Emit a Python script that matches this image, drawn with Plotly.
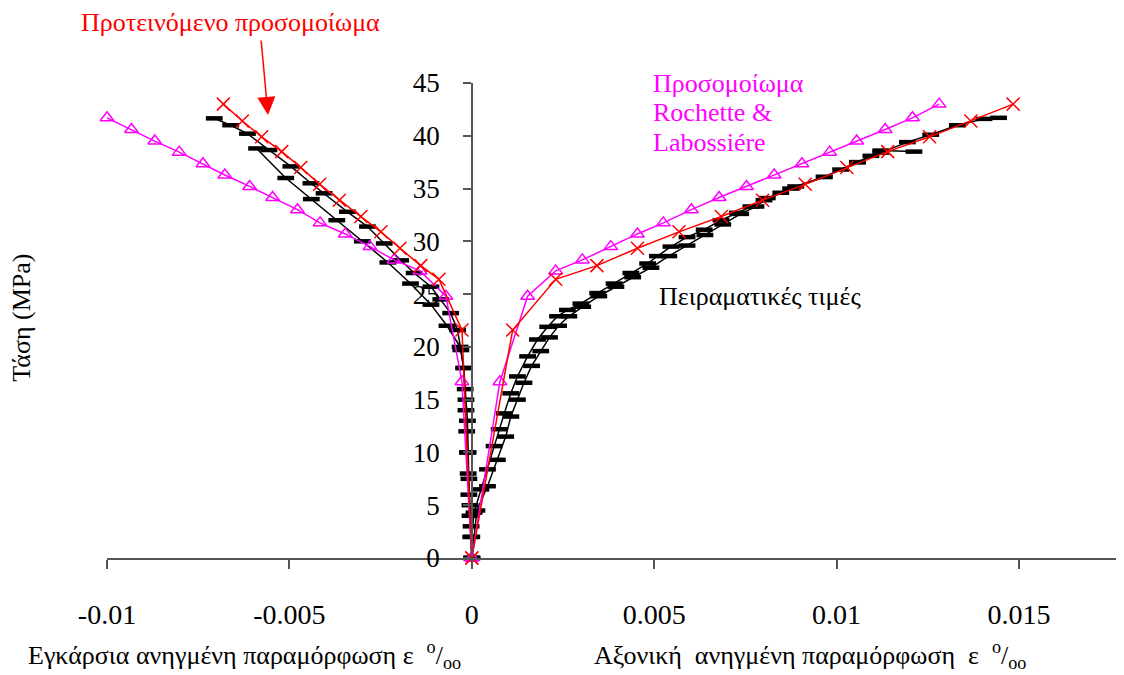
import plotly.graph_objects as go

# ---------------- data ----------------
# Proposed model (red, x markers)
red_left_x = [0, -0.00027, -0.00090, -0.00140, -0.00197, -0.00249, -0.00304, -0.00363, -0.00417,
              -0.00469, -0.00521, -0.00576, -0.00629, -0.00681]
red_right_x = [0, 0.00112, 0.00230, 0.00343, 0.00454, 0.00568, 0.00684, 0.00797, 0.00914,
               0.01028, 0.01140, 0.01255, 0.01368, 0.01484]
red_y = [0, 21.6, 26.4, 27.7, 29.35, 30.9, 32.35, 33.9, 35.4, 37.0, 38.5, 39.9, 41.4, 43.0]

# Rochette & Labossiere model (magenta, triangles)
mag_left_x = [0, -0.00027, -0.00071, -0.00142, -0.00213, -0.00279, -0.00347, -0.00416, -0.00478,
              -0.00546, -0.00609, -0.00677, -0.00737, -0.00802, -0.00869, -0.00933, -0.01000]
mag_left_y = [0, 16.7, 24.8, 27.2, 28.24, 29.5, 30.7, 31.75, 33.0, 34.15, 35.2, 36.28, 37.35,
              38.45, 39.5, 40.6, 41.7]
mag_right_x = [0, 0.00077, 0.00153, 0.00230, 0.00303, 0.00381, 0.00454, 0.00525, 0.00602,
               0.00678, 0.00753, 0.00829, 0.00905, 0.00981, 0.01055, 0.01133, 0.01208, 0.01281]
mag_right_y = [0, 16.7, 24.8, 27.2, 28.24, 29.5, 30.7, 31.75, 33.0, 34.15, 35.2, 36.28, 37.35,
               38.45, 39.5, 40.6, 41.7, 43.0]

# Experimental values (black) - transverse strain, two branches
exp_tr1_x = [0, -0.00003, -0.00005, -0.00008, -0.00010, -0.00012, -0.00014, -0.00016, -0.00018,
             -0.00022, -0.00030, -0.00039, -0.00058, -0.00085, -0.00112, -0.00158, -0.00195,
             -0.00240, -0.00286, -0.00341, -0.00405, -0.00441, -0.00496, -0.00556, -0.00615,
             -0.00661, -0.00706]
exp_tr1_y = [0, 2, 4, 6, 8, 10, 12, 14, 16, 18, 19.7, 21.6, 23.2, 24.5, 25.7, 27.0, 28.2, 29.8,
             31.4, 32.8, 34.55, 35.5, 37.1, 38.65, 40.2, 41.0, 41.65]
exp_tr2_x = [0, -0.00002, -0.00005, -0.00008, -0.00010, -0.00012, -0.00016, -0.00022, -0.00032,
             -0.00068, -0.00112, -0.00168, -0.00230, -0.00300, -0.00370, -0.00440, -0.00510,
             -0.00590]
exp_tr2_y = [0, 3, 5, 7.5, 10, 13, 15, 18, 20, 22, 24, 26, 28, 30, 32, 34, 36, 38.8]

# Experimental values (black) - axial strain, two branches
exp_ax1_x = [0, 0.00000, 0.00006, 0.00025, 0.00043, 0.00061, 0.00075, 0.00089, 0.00107, 0.00125,
             0.00153, 0.00180, 0.00208, 0.00235, 0.00262, 0.00299, 0.00345, 0.00390, 0.00436,
             0.00482, 0.00509, 0.00546, 0.00590, 0.00637, 0.00683, 0.00728, 0.00765, 0.00801,
             0.00847, 0.00888, 0.00966, 0.01011, 0.01057, 0.01094, 0.01121, 0.01212]
exp_ax1_y = [0, 2, 4.3, 6.5, 8.4, 10.6, 12.2, 13.7, 15.6, 17.2, 19.1, 20.7, 21.9, 22.9, 23.5,
             24.1, 25.1, 26.0, 27.0, 27.9, 28.6, 29.5, 30.4, 31.1, 32.0, 32.7, 33.3, 33.9, 34.6,
             35.2, 36.1, 36.8, 37.5, 38.1, 38.6, 38.5]
exp_ax2_x = [0, 0.00014, 0.00043, 0.00070, 0.00093, 0.00107, 0.00125, 0.00143, 0.00164, 0.00189,
             0.00213, 0.00238, 0.00266, 0.00304, 0.00348, 0.00395, 0.00441, 0.00491, 0.00540,
             0.00590, 0.00639, 0.00688, 0.00737, 0.00779, 0.00810, 0.00874, 0.00966, 0.01057,
             0.01121, 0.01194, 0.01258, 0.01331, 0.01404, 0.01444]
exp_ax2_y = [0, 4.5, 6.8, 9.3, 11.5, 13.4, 15.0, 16.6, 18.2, 19.6, 20.9, 22.0, 22.9, 23.8, 24.8,
             25.7, 26.6, 27.5, 28.6, 29.6, 30.6, 31.6, 32.6, 33.3, 34.1, 35.0, 36.1, 37.5, 38.4,
             39.4, 40.1, 41.0, 41.6, 41.7]

x_tickvals = [-0.01, -0.005, 0, 0.005, 0.01, 0.015]
x_ticktext = ["-0.01", "-0.005", "0", "0.005", "0.01", "0.015"]
y_tickvals = [0, 5, 10, 15, 20, 25, 30, 35, 40, 45]

# ---------------- figure ----------------
FONT = "Liberation Serif, Times New Roman, serif"
OFF = 8  # page body margin
W, H = 1124 - OFF, 675 - OFF
fig = go.Figure()

exp_style = dict(mode="lines+markers", line=dict(color="black", width=1.5),
                 marker=dict(symbol="line-ew", size=12, line=dict(color="black", width=4.5)),
                 cliponaxis=False, showlegend=False)
for xs, ys in [(exp_tr1_x, exp_tr1_y), (exp_tr2_x, exp_tr2_y),
               (exp_ax1_x, exp_ax1_y), (exp_ax2_x, exp_ax2_y)]:
    fig.add_trace(go.Scatter(x=xs, y=ys, **exp_style))

mag_style = dict(mode="lines+markers", line=dict(color="#FF00FF", width=1.5),
                 marker=dict(symbol="triangle-up-open", size=12, color="#FF00FF",
                             line=dict(color="#FF00FF", width=1.5)),
                 cliponaxis=False, showlegend=False)
fig.add_trace(go.Scatter(x=mag_left_x, y=mag_left_y, **mag_style))
fig.add_trace(go.Scatter(x=mag_right_x, y=mag_right_y, **mag_style))

red_style = dict(mode="lines+markers", line=dict(color="#FF0000", width=1.5),
                 marker=dict(symbol="x-thin-open", size=13, color="#FF0000",
                             line=dict(color="#FF0000", width=1.5)),
                 cliponaxis=False, showlegend=False)
fig.add_trace(go.Scatter(x=red_left_x, y=red_y, **red_style))
fig.add_trace(go.Scatter(x=red_right_x, y=red_y, **red_style))

# reference pixel frame: x=-0.01 at 107, y=0 at 558.5, y=45 at 83.3
L = 107 - OFF
T = 83 - OFF
B = H - (558.5 - OFF)
R_ = 3
plot_w = W - L - R_
xr = [-0.01, -0.01 + plot_w / 36480]
ypos = (0 - xr[0]) / (xr[1] - xr[0])

fig.update_layout(
    width=W, height=H,
    margin=dict(l=L, r=R_, t=T, b=B),
    paper_bgcolor="white", plot_bgcolor="white",
    font=dict(family=FONT, size=26, color="black"),
    xaxis=dict(range=xr, showgrid=False, zeroline=False, showline=True,
               linecolor="#555555", linewidth=1.5, ticks="outside", ticklen=9,
               tickcolor="#555555", tickwidth=1.5, automargin=False,
               tickvals=x_tickvals, ticktext=x_ticktext, ticklabelstandoff=22,
               tickfont=dict(family=FONT, size=28)),
    yaxis=dict(range=[0, 45], showgrid=False, zeroline=False, showline=True,
               linecolor="#555555", linewidth=1.5, ticks="outside", ticklen=8,
               tickcolor="#555555", tickwidth=1.5, anchor="free", position=ypos,
               tickvals=y_tickvals, ticklabelstandoff=18, automargin=False,
               tickfont=dict(family=FONT, size=27)),
)

def px2paper(px, py):
    px, py = px - OFF, py - OFF
    return (px - L) / plot_w, (H - B - py) / (H - T - B)

def add_text(text, px, py, color, size, xanchor="center", align="center", angle=0):
    xp, yp = px2paper(px, py)
    fig.add_annotation(text=text, x=xp, y=yp, xref="paper", yref="paper",
                       showarrow=False, xanchor=xanchor, yanchor="middle", align=align,
                       textangle=angle, font=dict(family=FONT, size=size, color=color))

add_text("Προτεινόμενο προσομοίωμα", 230, 22, "#FF0000", 26)
add_text("Προσομοίωμα", 651, 83, "#FF00FF", 26, xanchor="left", align="left")
add_text("Rochette &amp;", 651, 113, "#FF00FF", 26, xanchor="left", align="left")
add_text("Labossiére", 651, 143, "#FF00FF", 26, xanchor="left", align="left")
add_text("Πειραματικές τιμές", 760, 297, "black", 26)
add_text("Τάση (MPa)", 22, 318, "black", 26, angle=-90)
add_text("Εγκάρσια ανηγμένη παραμόρφωση ε  <sup>o</sup>/<sub>oo</sub>", 244, 656, "black", 26)
add_text("Αξονική  ανηγμένη παραμόρφωση  ε  <sup>o</sup>/<sub>oo</sub>", 810, 656, "black", 26)

# arrow pointing to the proposed-model curve
tx, ty = px2paper(268, 115)
fig.add_annotation(x=tx, y=ty, xref="paper", yref="paper", text="", showarrow=True,
                   ax=-7, ay=-76, arrowhead=2, arrowsize=2.4, arrowwidth=1.5,
                   arrowcolor="#FF0000")

fig.write_html("out.html")
